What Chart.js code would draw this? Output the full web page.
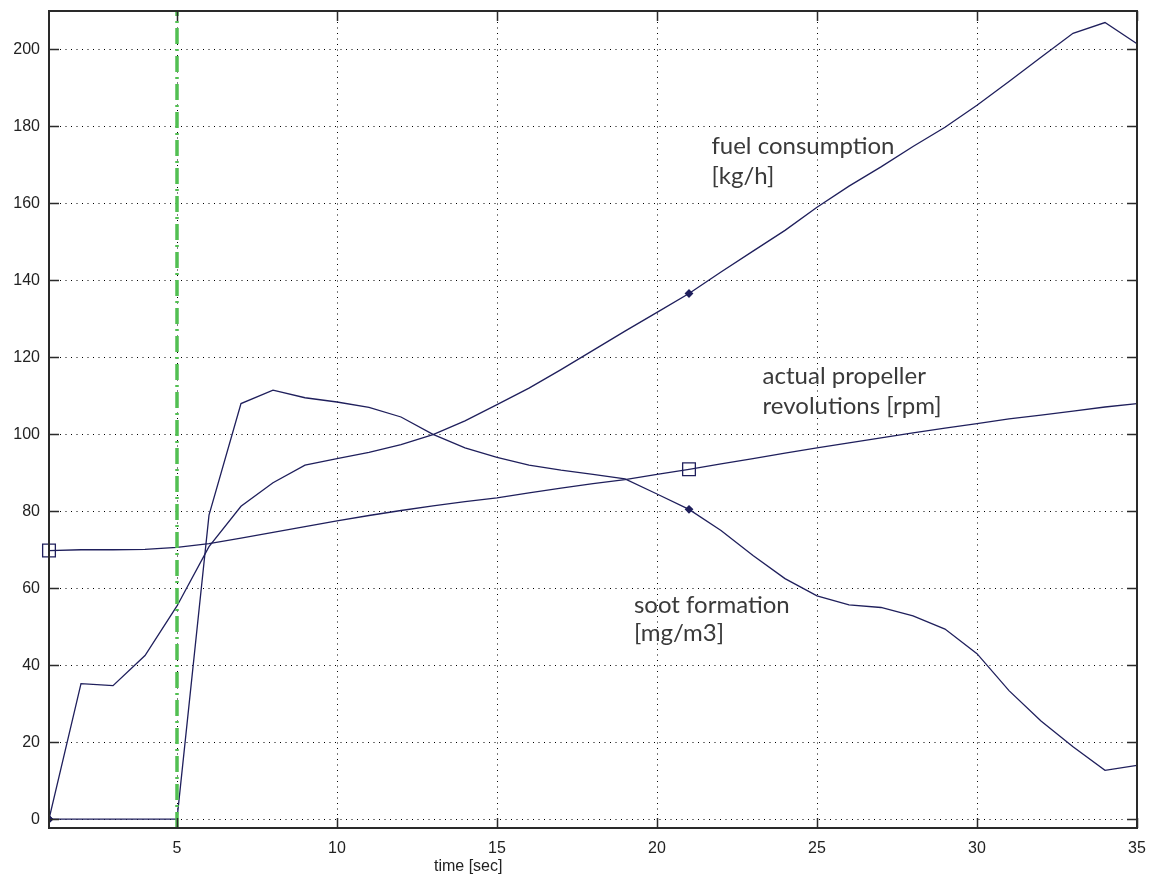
<!DOCTYPE html>
<html>
<head>
<meta charset="utf-8">
<script src="https://cdn.jsdelivr.net/npm/chart.js@4.4.0/dist/chart.umd.min.js"></script>
<style>
html,body{margin:0;padding:0;background:#fff;}
</style>
</head>
<body>
<canvas id="chart" width="1149" height="880"></canvas>
<script>
// dati (un campione al secondo)
const timeSec = [1,2,3,4,5,6,7,8,9,10,11,12,13,14,15,16,17,18,19,20,21,22,23,24,25,26,27,28,29,30,31,32,33,34,35];
const fuelConsumption = [0,35.2,34.7,42.5,55.4,70.8,81.3,87.4,92,93.7,95.3,97.3,99.9,103.5,107.7,112,116.8,121.8,126.8,131.7,136.6,142.2,147.6,153,159,164.5,169.5,174.8,179.8,185.5,191.7,198,204.2,207,201.5];
const sootFormation = [0,0,0,0,0,79,108,111.5,109.5,108.4,107,104.5,100,96.5,94,92,90.7,89.6,88.4,84.5,80.5,75,68.5,62.5,58,55.7,55,52.8,49.4,43,33.4,25.5,18.8,12.7,14];
const propellerRevs = [69.8,70,70,70.1,70.6,71.6,73,74.5,76,77.5,78.9,80.2,81.4,82.5,83.5,84.8,86,87.2,88.2,89.6,90.9,92.3,93.7,95.1,96.5,97.8,99.1,100.4,101.6,102.8,104,105,106,107.1,108];
const markerEvery = 20;
const startTime = 5;
const xTicks = [5,10,15,20,25,30,35];
const yTicks = [0,20,40,60,80,100,120,140,160,180,200];
const xRange = [1, 35];
const yRange = [-2.3, 210];

// etichette delle curve (posizione in coordinate dei dati)
const curveLabels = [
  {text: 'fuel consumption', x: 21.7, y: 172.8},
  {text: '[kg/h]', x: 21.7, y: 165},
  {text: 'actual propeller', x: 23.3, y: 113.2},
  {text: 'revolutions [rpm]', x: 23.3, y: 105.2},
  {text: 'soot formation', x: 19.28, y: 53.6},
  {text: '[mg/m3]', x: 19.28, y: 46.4}
];
const xTitle = 'time [sec]';

const lineColor = '#1f1f5c';

function toPoints(vals) {
  return timeSec.map((t, i) => ({x: t, y: vals[i]}));
}
function markerRadius(r) {
  return (ctx) => (ctx.dataIndex % markerEvery === 0 ? r : 0);
}

// tacche interne, riquadro e testi
const boxPlugin = {
  id: 'boxPlugin',
  afterDraw(chart) {
    const ctx = chart.ctx;
    const a = chart.chartArea;
    const xs = chart.scales.x, ys = chart.scales.y;
    const tl = 10;
    ctx.save();
    ctx.strokeStyle = '#2a2a2a';
    ctx.lineWidth = 1.5;
    ctx.beginPath();
    yTicks.forEach(v => {
      const p = Math.round(ys.getPixelForValue(v)) + 0.5;
      ctx.moveTo(a.left, p); ctx.lineTo(a.left + tl, p);
      ctx.moveTo(a.right, p); ctx.lineTo(a.right - tl, p);
    });
    xTicks.forEach(v => {
      const p = Math.round(xs.getPixelForValue(v)) + 0.5;
      ctx.moveTo(p, a.bottom); ctx.lineTo(p, a.bottom - tl);
      ctx.moveTo(p, a.top); ctx.lineTo(p, a.top + tl);
    });
    ctx.stroke();
    ctx.lineWidth = 2;
    ctx.strokeRect(a.left, a.top, a.right - a.left, a.bottom - a.top);

    ctx.fillStyle = '#3a3a3a';
    ctx.font = '24px Lato';
    ctx.textAlign = 'left';
    ctx.textBaseline = 'alphabetic';
    curveLabels.forEach(l => {
      ctx.fillText(l.text, xs.getPixelForValue(l.x), ys.getPixelForValue(l.y));
    });
    ctx.fillStyle = '#222';
    ctx.font = '16px "Liberation Sans"';
    ctx.textAlign = 'center';
    ctx.fillText(xTitle, xs.getPixelForValue(14.1), a.bottom + 43);
    ctx.restore();
  }
};

new Chart(document.getElementById('chart'), {
  type: 'line',
  data: {
    datasets: [
      {
        data: [{x: startTime, y: yRange[0]}, {x: startTime, y: yRange[1]}],
        borderColor: '#52bf52',
        borderWidth: 3.5,
        borderDash: [16, 5, 2, 5],
        pointRadius: 0,
        order: -1
      },
      {
        data: toPoints(fuelConsumption),
        borderColor: lineColor,
        borderWidth: 1.3,
        pointStyle: 'rectRot',
        pointRadius: markerRadius(3.5),
        pointBackgroundColor: lineColor,
        pointBorderColor: lineColor
      },
      {
        data: toPoints(sootFormation),
        borderColor: lineColor,
        borderWidth: 1.3,
        pointStyle: 'rectRot',
        pointRadius: markerRadius(3.5),
        pointBackgroundColor: lineColor,
        pointBorderColor: lineColor
      },
      {
        data: toPoints(propellerRevs),
        borderColor: lineColor,
        borderWidth: 1.3,
        pointStyle: 'rect',
        pointRadius: markerRadius(9),
        pointBackgroundColor: 'rgba(255,255,255,0)',
        pointBorderColor: lineColor,
        pointBorderWidth: 1.3,
        clip: false
      }
    ]
  },
  options: {
    responsive: false,
    animation: false,
    devicePixelRatio: 1,
    layout: {padding: {top: 11, right: 12, left: 0, bottom: 0}},
    elements: {line: {tension: 0}},
    plugins: {legend: {display: false}, tooltip: {enabled: false}},
    scales: {
      x: {
        type: 'linear',
        min: xRange[0],
        max: xRange[1],
        afterBuildTicks: (s) => { s.ticks = xTicks.map(v => ({value: v})); },
        afterFit: (s) => { s.height = 52; s.paddingLeft = 0; s.paddingRight = 0; },
        grid: {color: '#000', lineWidth: 1, drawTicks: false},
        border: {display: false, dash: [1, 4.5]},
        ticks: {color: '#222', font: {family: 'Liberation Sans', size: 16}, padding: 11, maxRotation: 0}
      },
      y: {
        min: yRange[0],
        max: yRange[1],
        afterBuildTicks: (s) => { s.ticks = yTicks.map(v => ({value: v})); },
        afterFit: (s) => { s.width = 49; s.paddingTop = 0; s.paddingBottom = 0; },
        grid: {color: '#000', lineWidth: 1, drawTicks: false},
        border: {display: false, dash: [1, 4.5]},
        ticks: {color: '#222', font: {family: 'Liberation Sans', size: 16}, padding: 9}
      }
    }
  },
  plugins: [boxPlugin]
});
</script>
</body>
</html>
